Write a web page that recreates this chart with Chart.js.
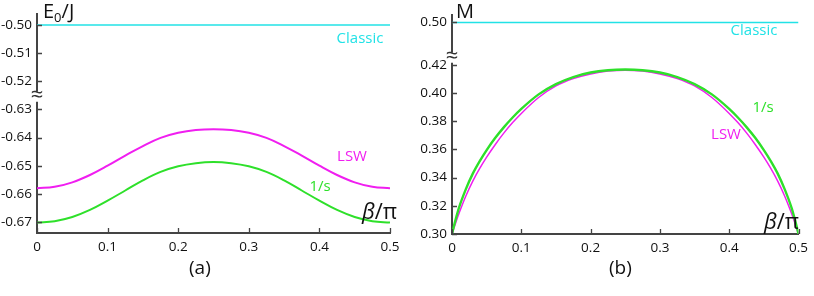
<!DOCTYPE html>
<html>
<head>
<meta charset="utf-8">
<script src="https://cdn.jsdelivr.net/npm/chart.js@4.4.0/dist/chart.umd.min.js"></script>
<style>
    html, body { margin: 0; padding: 0; background: #fff; }
    #wrap { position: relative; width: 814px; height: 296px; }
    .panel { position: absolute; top: 0; width: 407px; height: 296px; }
    .cap { position: absolute; top: 254px; font: 19px 'Open Sans', sans-serif; color: #111; }
</style>
</head>
<body>
<div id="wrap">
    <div class="panel" style="left:0"><canvas id="chartA"></canvas></div>
    <div class="panel" style="left:407px"><canvas id="chartB"></canvas></div>
    <div class="cap" style="left:189px">(a)</div>
    <div class="cap" style="left:609px">(b)</div>
</div>
<script>
// Data, panel (a): ground state energy E0/J vs beta/pi

var betaA = [0, 0.025, 0.05, 0.075, 0.1, 0.125, 0.15, 0.175, 0.2, 0.225, 0.25,
             0.275, 0.3, 0.325, 0.35, 0.375, 0.4, 0.425, 0.45, 0.475, 0.5];
var energyLSW = [-0.6580, -0.6575, -0.6559, -0.6533, -0.6500, -0.6464, -0.6430, -0.6401, -0.6383, -0.6373, -0.6370,
                 -0.6373, -0.6383, -0.6401, -0.6430, -0.6464, -0.6500, -0.6533, -0.6559, -0.6575, -0.6580];
var energySpin = [-0.6702, -0.6697, -0.6682, -0.6657, -0.6624, -0.6588, -0.6552, -0.6522, -0.6502, -0.6491, -0.6487,
                  -0.6491, -0.6502, -0.6522, -0.6552, -0.6588, -0.6624, -0.6657, -0.6682, -0.6697, -0.6702];
var betaClassic = [0, 0.5];
var energyClassic = [-0.50, -0.50];
var tickLabelsA = [-0.50, -0.51, -0.52, -0.63, -0.64, -0.65, -0.66, -0.67];

// Data, panel (b): order parameter M vs beta/pi

var betaB = [0, 0.005, 0.01, 0.02, 0.03, 0.04, 0.05, 0.0625, 0.075, 0.0875, 0.1, 0.125, 0.15, 0.175, 0.2, 0.225, 0.25,
             0.275, 0.3, 0.325, 0.35, 0.375, 0.4, 0.4125, 0.425, 0.4375, 0.45, 0.46, 0.47, 0.48, 0.49, 0.495, 0.5];
var magSpin = [0.3000, 0.3098, 0.3185, 0.3318, 0.3428, 0.3517, 0.3595, 0.3682, 0.3758, 0.3826, 0.3887, 0.3990, 0.4063, 0.4113, 0.4145, 0.4161, 0.4166,
               0.4161, 0.4145, 0.4113, 0.4063, 0.3990, 0.3887, 0.3826, 0.3758, 0.3682, 0.3595, 0.3517, 0.3428, 0.3318, 0.3185, 0.3098, 0.3000];
var magLSW = [0.3000, 0.3075, 0.3145, 0.3270, 0.3375, 0.3465, 0.3545, 0.3635, 0.3717, 0.3790, 0.3855, 0.3968, 0.4050, 0.4102, 0.4135, 0.4155, 0.4162,
              0.4155, 0.4135, 0.4102, 0.4050, 0.3968, 0.3855, 0.3790, 0.3717, 0.3635, 0.3545, 0.3465, 0.3375, 0.3270, 0.3145, 0.3075, 0.3000];
var magClassic = [0.50, 0.50];
var tickLabelsB = [0.30, 0.32, 0.34, 0.36, 0.38, 0.40, 0.42, 0.50];

var xTicks = [0, 0.1, 0.2, 0.3, 0.4, 0.5];

// Broken y axes: values above the cut are shifted down by the gap

var breakA = { cut: -0.58, shift: 0.10, mark: -0.6255 };
var breakB = { cut: 0.46, shift: 0.05, mark: 0.425 };

var CYAN = '#22e2e6', MAGENTA = '#f01ef0', GREEN = '#2ee02a', AXIS = '#444';
var FONT = "'Open Sans', sans-serif";

function squeeze(v, brk) {
    return v > brk.cut ? v - brk.shift : v;
}

function points(xs, ys, brk) {
    return xs.map(function (x, i) { return { x: x, y: squeeze(ys[i], brk) }; });
}

// inward ticks, axis break mark and in-plot labels
var panelDecor = {
    id: 'panelDecor',
    afterDraw: function (chart, args, opts) {
        var ctx = chart.ctx, xs = chart.scales.x, ys = chart.scales.y;
        var area = chart.chartArea;
        ctx.save();
        ctx.strokeStyle = AXIS;
        ctx.lineWidth = 1.3;
        ctx.beginPath();
        xs.ticks.forEach(function (t) {
            var px = Math.round(xs.getPixelForValue(t.value)) + 0.5;
            ctx.moveTo(px, area.bottom);
            ctx.lineTo(px, area.bottom - 5);
        });
        ys.ticks.forEach(function (t) {
            var py = Math.round(ys.getPixelForValue(t.value)) + 0.5;
            ctx.moveTo(area.left, py);
            ctx.lineTo(area.left + 5, py);
        });
        ctx.stroke();

        // break mark
        var by = ys.getPixelForValue(opts.brk.mark);
        ctx.fillStyle = '#fff';
        ctx.fillRect(area.left - 3, by - 5, 6, 10);
        ctx.fillStyle = '#333';
        ctx.font = '22px ' + FONT;
        ctx.textAlign = 'center';
        ctx.textBaseline = 'middle';
        ctx.fillText('\u2248', area.left, by - 1);

        // y title
        ctx.textAlign = 'left';
        ctx.textBaseline = 'alphabetic';
        ctx.fillStyle = '#111';
        var tx = opts.title.x, ty = opts.title.y;
        opts.title.parts.forEach(function (p) {
            ctx.font = (p.sub ? '13px ' : '20px ') + FONT;
            ctx.fillText(p.text, tx, ty + (p.sub ? 4 : 0));
            tx += ctx.measureText(p.text).width;
        });

        // curve labels
        ctx.textAlign = 'center';
        ctx.textBaseline = 'middle';
        opts.labels.forEach(function (l) {
            ctx.fillStyle = l.color;
            ctx.font = '15px ' + FONT;
            ctx.fillText(l.text, l.x, l.y);
        });

        // beta/pi axis label
        var bx = opts.xlabel.x, by2 = opts.xlabel.y;
        ctx.fillStyle = '#111';
        ctx.textAlign = 'left';
        ctx.font = 'italic 22px ' + FONT;
        ctx.fillText('\u03b2', bx, by2);
        bx += ctx.measureText('\u03b2').width;
        ctx.font = '22px ' + FONT;
        ctx.fillText('/\u03c0', bx, by2);
        ctx.restore();
    }
};

function makePanel(canvasId, cfg) {
    return new Chart(document.getElementById(canvasId), {
        type: 'line',
        data: {
            datasets: [{
                data: points(cfg.betas, cfg.spin, cfg.brk),
                borderColor: GREEN,
                borderWidth: cfg.spinWidth,
                order: 0
            }, {
                data: points(cfg.betas, cfg.lsw, cfg.brk),
                borderColor: MAGENTA,
                borderWidth: cfg.lswWidth,
                order: 1
            }, {
                data: points(betaClassic, cfg.classic, cfg.brk),
                borderColor: CYAN,
                borderWidth: 1.6,
                order: 2
            }]
        },
        options: {
            responsive: true,
            maintainAspectRatio: false,
            animation: false,
            layout: { padding: cfg.padding },
            elements: {
                point: { radius: 0 },
                line: { tension: 0.4, cubicInterpolationMode: cfg.curve, fill: false }
            },
            plugins: {
                legend: { display: false },
                tooltip: { enabled: false },
                panelDecor: cfg.decor
            },
            scales: {
                x: {
                    type: 'linear',
                    min: 0,
                    max: 0.5,
                    afterBuildTicks: function (scale) {
                        scale.ticks = xTicks.map(function (v) { return { value: v }; });
                    },
                    afterFit: function (scale) { scale.height = cfg.xHeight; },
                    ticks: {
                        autoSkip: false,
                        maxRotation: 0,
                        padding: 6,
                        color: '#111',
                        font: { family: FONT, size: 13.5 },
                        callback: function (v) { return String(Math.round(v * 10) / 10); }
                    },
                    grid: { drawOnChartArea: false, drawTicks: false },
                    border: { color: AXIS, width: 2 }
                },
                y: {
                    type: 'linear',
                    min: cfg.yMin,
                    max: cfg.yMax,
                    afterBuildTicks: function (scale) {
                        scale.ticks = cfg.tickLabels.map(function (v) { return { value: squeeze(v, cfg.brk) }; });
                    },
                    afterFit: function (scale) { scale.width = cfg.yWidth; },
                    ticks: {
                        autoSkip: false,
                        padding: 5,
                        color: '#111',
                        font: { family: FONT, size: 13.5 },
                        callback: function (v, i) { return cfg.tickLabels[i].toFixed(2); }
                    },
                    grid: { drawOnChartArea: false, drawTicks: false },
                    border: { color: AXIS, width: 2 }
                }
            }
        },
        plugins: [panelDecor]
    });
}

makePanel('chartA', {
    betas: betaA, spin: energySpin, lsw: energyLSW, classic: energyClassic,
    brk: breakA, tickLabels: tickLabelsA, curve: 'default',
    yMin: -0.6739, yMax: -0.5961,
    spinWidth: 2, lswWidth: 2,
    padding: { left: 0, right: 17, top: 14, bottom: 0 },
    yWidth: 37, xHeight: 63,
    decor: {
        brk: breakA,
        title: { x: 43, y: 18, parts: [{ text: 'E' }, { text: '0', sub: true }, { text: '/J' }] },
        labels: [
            { text: 'Classic', x: 360, y: 39, color: CYAN },
            { text: 'LSW', x: 352, y: 157, color: MAGENTA },
            { text: '1/s', x: 320, y: 187, color: GREEN }
        ],
        xlabel: { x: 362, y: 213 }
    }
});

makePanel('chartB', {
    betas: betaB, spin: magSpin, lsw: magLSW, classic: magClassic,
    brk: breakB, tickLabels: tickLabelsB, curve: 'monotone',
    yMin: 0.30, yMax: 0.4553,
    spinWidth: 2.4, lswWidth: 1.5,
    padding: { left: 0, right: 10, top: 15, bottom: 0 },
    yWidth: 45, xHeight: 62,
    decor: {
        brk: breakB,
        title: { x: 49, y: 18, parts: [{ text: 'M' }] },
        labels: [
            { text: 'Classic', x: 347, y: 31, color: CYAN },
            { text: '1/s', x: 356, y: 108, color: GREEN },
            { text: 'LSW', x: 319, y: 135, color: MAGENTA }
        ],
        xlabel: { x: 357, y: 223 }
    }
});
</script>
</body>
</html>
